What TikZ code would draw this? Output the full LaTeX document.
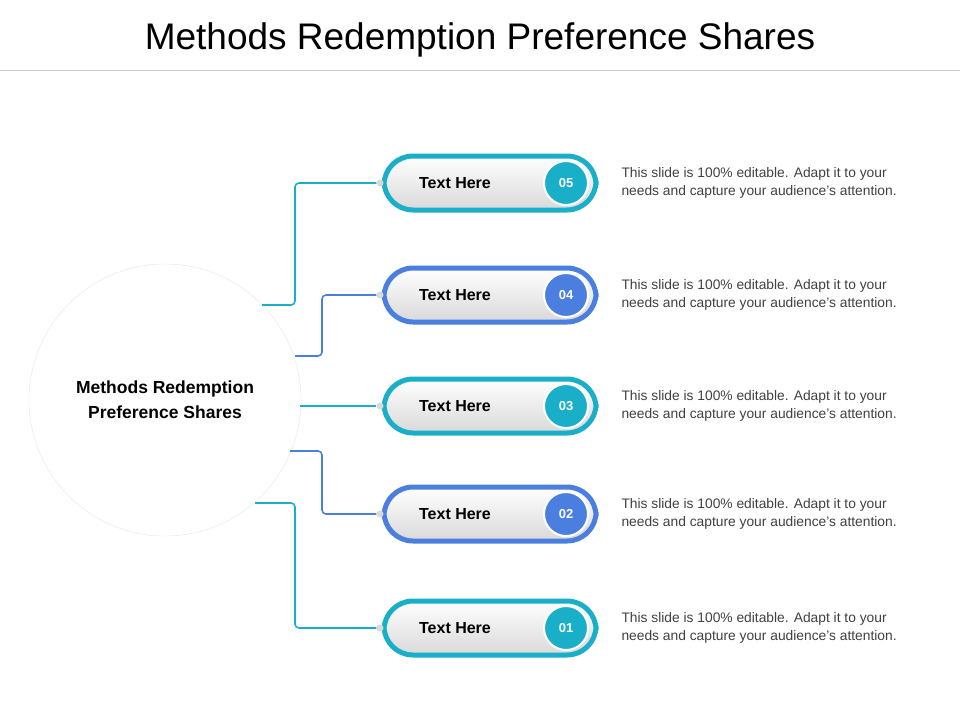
\documentclass[tikz,border=0pt]{standalone}
\usepackage{fontspec}
\setmainfont{Liberation Sans}
\usetikzlibrary{positioning}
\definecolor{teal1}{HTML}{1AAFC9}
\definecolor{blue1}{HTML}{4A7FE0}
\begin{document}
\begin{tikzpicture}[x=1pt,y=-1pt]
    \tikzstyle{pill}=[rounded corners=29pt,line width=5pt,minimum width=212pt,minimum height=54pt,inner sep=0pt,top color=white,bottom color=black!15]
    \tikzstyle{num}=[circle,draw=white,line width=2pt,minimum size=44pt,inner sep=0pt,text=white,font=\bfseries\fontsize{13}{15}\selectfont]
    \tikzstyle{label}=[font=\bfseries\fontsize{16}{18}\selectfont]
    \tikzstyle{desc}=[align=left,anchor=west,text=black!75,font=\fontsize{13.8}{18}\selectfont]
    \tikzstyle{link}=[line width=1.6pt,rounded corners=4pt]
    \tikzstyle{dot}=[circle,fill=black!15,minimum size=7pt,inner sep=0pt]

    \useasboundingbox (0,0) rectangle (960,720);
    \node[font=\fontsize{37}{42}\selectfont] (title) at (480,40) {Methods Redemption Preference Shares};
    \draw[black!20] (0,70) -- (960,70);

    \node[circle,draw=black!10,minimum size=272pt,align=center,font=\bfseries\fontsize{17.5}{25}\selectfont] (hub) at (165,400) {Methods Redemption\\Preference Shares};

    \foreach \n/\y/\c in {5/183/teal1,4/295/blue1,3/406/teal1,2/514/blue1,1/628/teal1} {
        \node[pill,draw=\c] (p\n) at (490,\y) {};
        \node[num,fill=\c] (n\n) at (566,\y) {0\n};
        \node[label] (t\n) at (455,\y) {Text Here};
        \node[dot] (d\n) at (380,\y) {};
        \node[desc] (s\n) at (618,\y) {This slide is 100\% editable. Adapt it to your\\needs and capture your audience's attention.};
    }

    \coordinate (h5) at (262,305);
    \coordinate (h4) at (295,356);
    \coordinate (h3) at (300,406);
    \coordinate (h2) at (290,451);
    \coordinate (h1) at (255,503);
    \draw[link,teal1] (h5) -| (295,183) -- (d5.west);
    \draw[link,blue1] (h4) -| (322,295) -- (d4.west);
    \draw[link,teal1] (h3) -- (d3.west);
    \draw[link,blue1] (h2) -| (322,514) -- (d2.west);
    \draw[link,teal1] (h1) -| (295,628) -- (d1.west);
\end{tikzpicture}
\end{document}
